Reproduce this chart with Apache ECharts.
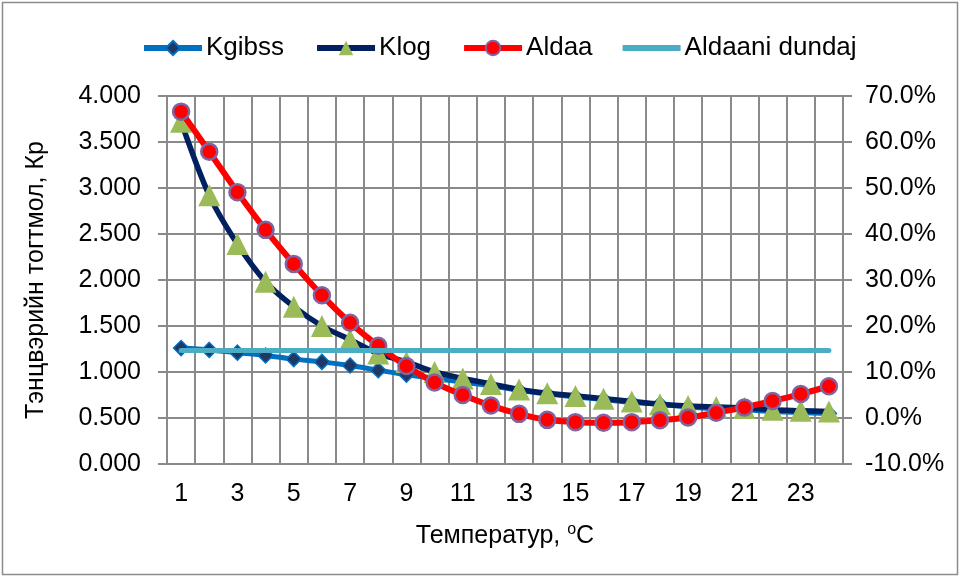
<!DOCTYPE html>
<html>
<head>
<meta charset="utf-8">
<script src="https://cdn.jsdelivr.net/npm/echarts@6/dist/echarts.min.js"></script>
<style>
html,body{margin:0;padding:0;background:#fff;}
#chart{width:961px;height:578px;}
</style>
</head>
<body>
<div id="chart"></div>
<script>
const categories = ['1','2','3','4','5','6','7','8','9','10','11','12','13','14','15','16','17','18','19','20','21','22','23','24'];
const kgibss = [1.26, 1.24, 1.21, 1.18, 1.14, 1.11, 1.07, 1.02, 0.97, 0.93, 0.89, 0.85, 0.80, 0.76, 0.73, 0.70, 0.67, 0.65, 0.62, 0.60, 0.59, 0.57, 0.56, 0.55];
const klog = [3.72, 2.92, 2.39, 1.98, 1.71, 1.50, 1.35, 1.20, 1.11, 1.00, 0.93, 0.87, 0.81, 0.77, 0.74, 0.71, 0.68, 0.65, 0.63, 0.62, 0.61, 0.59, 0.58, 0.57];
const aldaa = [66.6, 57.9, 49.1, 40.9, 33.5, 26.7, 20.7, 15.7, 11.3, 7.7, 5.0, 2.7, 0.9, -0.4, -0.9, -1.05, -0.9, -0.5, 0.1, 1.15, 2.3, 3.7, 5.2, 6.9];
const aldaaniDundaj = [14.7, 14.7, 14.7, 14.7, 14.7, 14.7, 14.7, 14.7, 14.7, 14.7, 14.7, 14.7, 14.7, 14.7, 14.7, 14.7, 14.7, 14.7, 14.7, 14.7, 14.7, 14.7, 14.7, 14.7];
const seriesNames = ['Kgibss', 'Klog', 'Aldaa', 'Aldaani dundaj'];
const leftTicks = {min: 0, max: 4, interval: 0.5};
const rightTicks = {min: -10, max: 70, interval: 10};

const FONT = '"Liberation Sans", Arial, sans-serif';
const GRID = '#8a8a8a';
const TICK_FS = 25;

const chart = echarts.init(document.getElementById('chart'), null, {renderer: 'canvas'});
chart.setOption({
  animation: false,
  backgroundColor: '#fff',
  textStyle: {fontFamily: FONT, color: '#000'},
  graphic: [{
    type: 'rect', z: -10,
    shape: {x: 2.5, y: 2.5, width: 955, height: 572},
    style: {fill: 'none', stroke: '#8c8c8c', lineWidth: 1.5}
  }],
  legend: {
    left: 136, top: 30,
    itemWidth: 58, itemHeight: 18, itemGap: 30, symbolKeepAspect: true,
    lineStyle: {width: 6},
    textStyle: {fontFamily: FONT, fontSize: 26, color: '#000', padding: [0, 0, 0, -1]},
    data: [
      {name: seriesNames[0]},
      {name: seriesNames[1]},
      {name: seriesNames[2]},
      {name: seriesNames[3], icon: 'path://M0,0L58,0L58,6L0,6Z'}
    ]
  },
  grid: {left: 167, right: 118, top: 96, bottom: 114, containLabel: false},
  xAxis: {
    type: 'category', data: categories, boundaryGap: true,
    axisLine: {show: true, lineStyle: {color: GRID, width: 2}},
    axisTick: {show: false},
    axisLabel: {interval: 1, margin: 18, fontSize: TICK_FS, color: '#000', fontFamily: FONT},
    splitLine: {show: true, interval: 0, lineStyle: {color: GRID, width: 2}},
    name: 'Температур, {s|o}C',
    nameLocation: 'middle', nameGap: 58,
    nameTextStyle: {fontSize: TICK_FS, color: '#000', fontFamily: FONT,
      rich: {s: {fontSize: 16, verticalAlign: 'top', padding: [0, 0, 12, 0], fontFamily: FONT, color: '#000'}}}
  },
  yAxis: [{
    type: 'value', position: 'left', min: leftTicks.min, max: leftTicks.max, interval: leftTicks.interval,
    axisLine: {show: true, lineStyle: {color: GRID, width: 2}},
    axisTick: {show: true, length: 9, lineStyle: {color: GRID, width: 2}},
    axisLabel: {margin: 26, fontSize: TICK_FS, color: '#000', fontFamily: FONT, formatter: v => v.toFixed(3)},
    splitLine: {show: true, lineStyle: {color: GRID, width: 2}},
    name: 'Тэнцвэрийн тогтмол, Кр',
    nameLocation: 'middle', nameGap: 118,
    nameTextStyle: {fontSize: TICK_FS, color: '#000', fontFamily: FONT}
  }, {
    type: 'value', position: 'right', min: rightTicks.min, max: rightTicks.max, interval: rightTicks.interval,
    axisLine: {show: true, lineStyle: {color: GRID, width: 2}},
    axisTick: {show: true, length: 9, lineStyle: {color: GRID, width: 2}},
    axisLabel: {margin: 22, fontSize: TICK_FS, color: '#000', fontFamily: FONT, formatter: v => v.toFixed(1) + '%'},
    splitLine: {show: false}
  }],
  series: [{
    name: seriesNames[0], type: 'line', yAxisIndex: 0, data: kgibss, smooth: 0.3, z: 2,
    symbol: 'diamond', symbolSize: 15, showAllSymbol: true,
    lineStyle: {color: '#0070C0', width: 5},
    itemStyle: {color: '#1F3864', borderColor: '#0070C0', borderWidth: 1.5}
  }, {
    name: seriesNames[1], type: 'line', yAxisIndex: 0, data: klog, smooth: 0.3, z: 3,
    symbol: 'triangle', symbolSize: 22, showAllSymbol: true,
    lineStyle: {color: '#002060', width: 5.5},
    itemStyle: {color: '#9BBB59', borderWidth: 0}
  }, {
    name: seriesNames[2], type: 'line', yAxisIndex: 1, data: aldaa, smooth: 0.3, z: 4,
    symbol: 'circle', symbolSize: 16, showAllSymbol: true,
    lineStyle: {color: '#FF0000', width: 6},
    itemStyle: {color: '#FF0000', borderColor: '#8064A2', borderWidth: 2.5}
  }, {
    name: seriesNames[3], type: 'line', yAxisIndex: 1, data: aldaaniDundaj, z: 5,
    symbol: 'none', showSymbol: false,
    lineStyle: {color: '#4BACC6', width: 5, cap: 'round'},
    itemStyle: {color: '#4BACC6'}
  }]
});
</script>
</body>
</html>
